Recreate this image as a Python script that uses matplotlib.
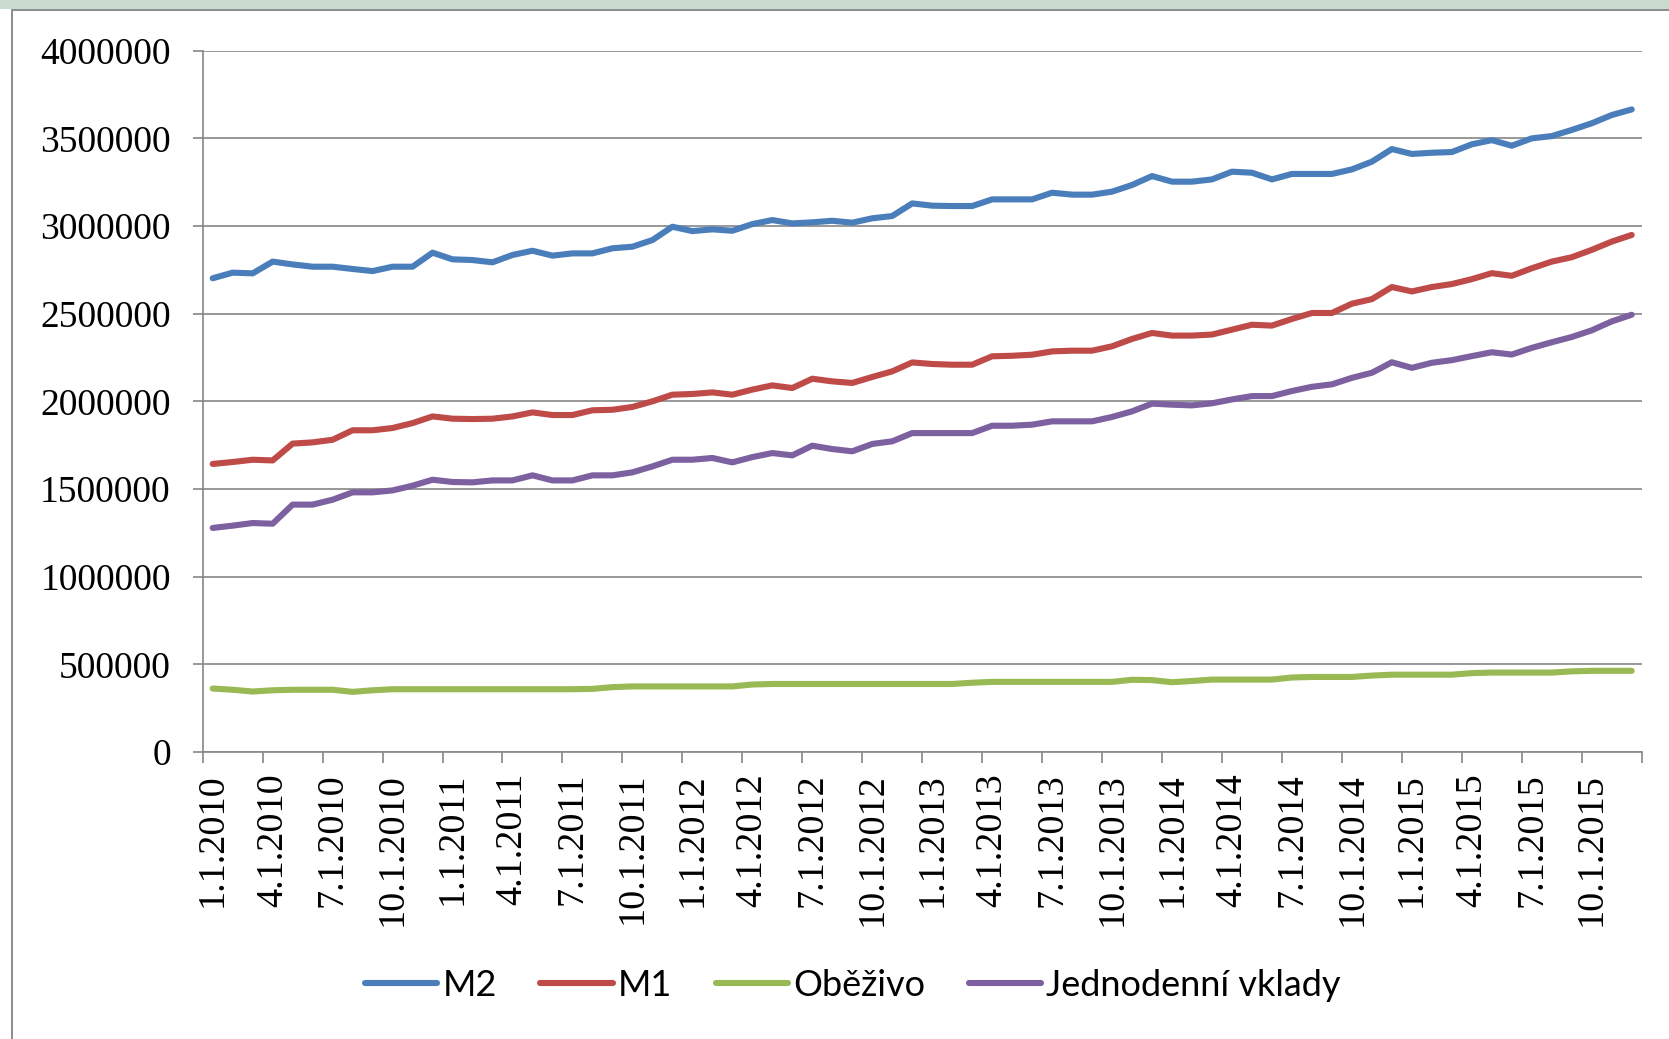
import matplotlib.pyplot as plt
from matplotlib.patches import Rectangle
import numpy as np

# monthly values 1/2010 - 12/2015
m2 = [2702000, 2734000, 2730000, 2797000, 2781000, 2768000, 2768000, 2755000, 2743000, 2768000,
      2768000, 2848000, 2810000, 2806000, 2793000, 2835000, 2859000, 2831000, 2844000, 2844000,
      2873000, 2882000, 2920000, 2996000, 2971000, 2981000, 2973000, 3011000, 3034000, 3015000,
      3021000, 3030000, 3019000, 3044000, 3057000, 3129000, 3116000, 3114000, 3114000, 3152000,
      3152000, 3152000, 3190000, 3179000, 3179000, 3196000, 3234000, 3285000, 3253000, 3253000,
      3266000, 3310000, 3304000, 3266000, 3297000, 3297000, 3297000, 3323000, 3367000, 3439000,
      3411000, 3418000, 3422000, 3466000, 3490000, 3458000, 3500000, 3513000, 3548000, 3586000,
      3633000, 3665000]
m1 = [1643000, 1654000, 1667000, 1663000, 1759000, 1766000, 1781000, 1835000, 1835000, 1848000,
      1876000, 1914000, 1901000, 1899000, 1901000, 1914000, 1937000, 1922000, 1922000, 1949000,
      1952000, 1968000, 2000000, 2038000, 2042000, 2051000, 2038000, 2067000, 2091000, 2076000,
      2129000, 2114000, 2105000, 2139000, 2171000, 2222000, 2213000, 2209000, 2209000, 2257000,
      2260000, 2266000, 2285000, 2289000, 2289000, 2314000, 2356000, 2390000, 2375000, 2375000,
      2381000, 2409000, 2437000, 2432000, 2470000, 2504000, 2504000, 2557000, 2583000, 2652000,
      2627000, 2652000, 2669000, 2697000, 2731000, 2716000, 2759000, 2797000, 2822000, 2864000,
      2911000, 2949000]
obezivo = [362000, 355000, 345000, 352000, 355000, 355000, 355000, 343000, 352000, 358000,
           358000, 358000, 358000, 358000, 358000, 358000, 358000, 358000, 358000, 360000,
           370000, 374000, 374000, 374000, 374000, 374000, 374000, 385000, 388000, 388000,
           388000, 388000, 388000, 388000, 388000, 388000, 388000, 388000, 395000, 400000,
           400000, 400000, 400000, 400000, 400000, 400000, 412000, 410000, 398000, 405000,
           413000, 413000, 413000, 413000, 425000, 428000, 428000, 428000, 436000, 441000,
           441000, 441000, 441000, 450000, 453000, 453000, 453000, 453000, 460000, 463000,
           463000, 463000]
jednodenni = [1278000, 1291000, 1306000, 1302000, 1411000, 1411000, 1439000, 1481000, 1481000, 1492000,
              1519000, 1553000, 1540000, 1538000, 1549000, 1549000, 1578000, 1549000, 1549000, 1578000,
              1578000, 1595000, 1629000, 1667000, 1667000, 1677000, 1652000, 1682000, 1705000, 1692000,
              1747000, 1728000, 1715000, 1757000, 1772000, 1819000, 1819000, 1819000, 1819000, 1861000,
              1861000, 1867000, 1886000, 1886000, 1886000, 1911000, 1943000, 1987000, 1981000, 1977000,
              1989000, 2011000, 2030000, 2030000, 2059000, 2083000, 2097000, 2134000, 2163000, 2223000,
              2191000, 2220000, 2235000, 2258000, 2280000, 2267000, 2305000, 2337000, 2367000, 2405000,
              2456000, 2494000]

tick_labels = ['1.1.2010', '4.1.2010', '7.1.2010', '10.1.2010',
               '1.1.2011', '4.1.2011', '7.1.2011', '10.1.2011',
               '1.1.2012', '4.1.2012', '7.1.2012', '10.1.2012',
               '1.1.2013', '4.1.2013', '7.1.2013', '10.1.2013',
               '1.1.2014', '4.1.2014', '7.1.2014', '10.1.2014',
               '1.1.2015', '4.1.2015', '7.1.2015', '10.1.2015']

names = ['M2', 'M1', 'Oběživo', 'Jednodenní vklady']
colors = ['#4A7EBB', '#BE4B48', '#98B954', '#7D60A0']

W, H = 1669, 1039
fig = plt.figure(figsize=(W / 100, H / 100), dpi=100)
fig.patch.set_facecolor('white')

# slide background strip and chart border
fig.patches.append(Rectangle((0, 1 - 9 / H), 1, 9 / H, transform=fig.transFigure,
                             facecolor='#c9dccf', edgecolor='none', zorder=0))
fig.patches.append(Rectangle((12 / W, -0.05), 1.05, 1 - 10 / H + 0.05, transform=fig.transFigure,
                             facecolor='white', edgecolor='#8c8c8c', linewidth=1.4, zorder=1))

ax = fig.add_axes([202.7 / W, 1 - 752 / H, (1641.7 - 202.7) / W, (752 - 50.7) / H])
ax.set_zorder(2)
ax.patch.set_alpha(0)

x = np.arange(len(m2))
for vals, name, c in zip([m2, m1, obezivo, jednodenni], names, colors):
    ax.plot(x, vals, color=c, lw=4.4, label=name, solid_capstyle='round', solid_joinstyle='round')

ax.set_xlim(-0.5, len(m2) - 0.5)
ax.set_ylim(0, 4000000)
ax.set_yticks(np.arange(0, 4000001, 500000))
ax.set_yticklabels([str(v) for v in range(0, 4000001, 500000)],
                   family=['Liberation Serif', 'DejaVu Serif'], fontsize=27)
ax.yaxis.grid(True, color='#868686', lw=1.2)
ax.set_axisbelow(True)

ax.set_xticks(np.arange(-0.5, len(m2), 3))
ax.set_xticklabels([])
ax.set_xticks(np.arange(0, len(m2), 3), minor=True)
ax.set_xticklabels(tick_labels, minor=True, rotation=90,
                   family=['Liberation Serif', 'DejaVu Serif'], fontsize=27.5)
ax.tick_params(axis='x', which='major', length=8, width=1.2, color='#868686', direction='out')
ax.tick_params(axis='x', which='minor', length=0, pad=15)
ax.tick_params(axis='y', length=7, width=1.2, color='#868686', pad=16)

for s in ['top', 'right']:
    ax.spines[s].set_visible(False)
for s in ['left', 'bottom']:
    ax.spines[s].set_color('#868686')
    ax.spines[s].set_linewidth(1.2)

fig.legend(loc='center', bbox_to_anchor=(853 / W, 1 - 985 / H), ncol=4, frameon=False,
           prop={'family': ['Lato', 'DejaVu Sans'], 'size': 26},
           handlelength=2.0, handletextpad=0.15, columnspacing=1.2)

fig.savefig('out.png', dpi=100)
